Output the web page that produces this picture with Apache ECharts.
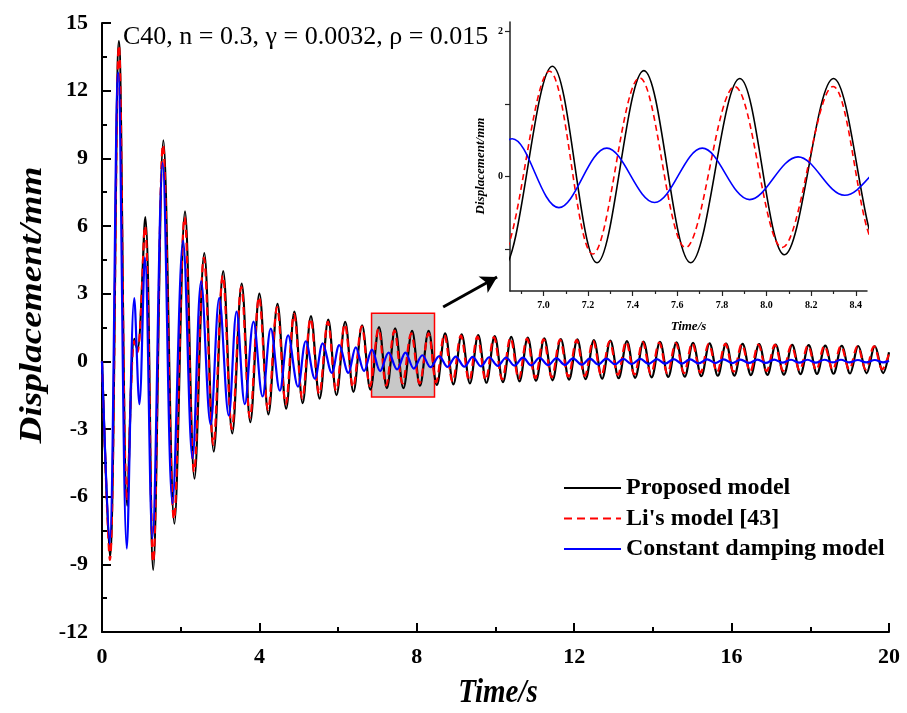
<!DOCTYPE html>
<html><head><meta charset="utf-8">
<script src="https://cdn.jsdelivr.net/npm/echarts@6/dist/echarts.min.js"></script>
<style>html,body{margin:0;padding:0;background:#fff}#c{width:907px;height:713px}</style>
</head><body><div id="c"></div>
<script>
// ---- data: [time (s), displacement (mm)] at extremes ----
const proposed = [[0,0],[0.20,-8.7],[0.43,14.2],[0.64,-6.4],[0.82,1.0],[0.90,0.5],[1.10,6.4],[1.30,-9.25],[1.56,9.8],[1.84,-7.2],[2.11,6.65],[2.35,-5.2],[2.60,4.8],[2.84,-4.0],[3.08,4.0],[3.31,-3.2],[3.55,3.45],[3.77,-2.7],[4.00,3.0],[4.23,-2.35],[4.46,2.55],[4.68,-2.1],[4.89,2.2],[5.10,-1.85],[5.31,2.0],[5.53,-1.65],[5.75,1.85],[5.96,-1.5],[6.18,1.75],[6.39,-1.35],[6.61,1.6],[6.82,-1.25],[7.04,1.52],[7.24,-1.19],[7.45,1.46],[7.66,-1.19],[7.88,1.35],[8.08,-1.08],[8.30,1.35],[8.51,-1.05],[8.72,1.24],[8.93,-1.02],[9.14,1.2],[9.35,-0.98],[9.56,1.16],[9.77,-0.95],[9.98,1.12],[10.19,-0.92],[10.40,1.08],[10.61,-0.89],[10.82,1.05],[11.03,-0.86],[11.24,1.02],[11.45,-0.84],[11.66,0.99],[11.87,-0.81],[12.08,0.97],[12.29,-0.79],[12.50,0.94],[12.71,-0.77],[12.92,0.92],[13.13,-0.75],[13.34,0.9],[13.55,-0.73],[13.76,0.88],[13.97,-0.71],[14.18,0.86],[14.39,-0.69],[14.60,0.84],[14.81,-0.68],[15.02,0.82],[15.23,-0.66],[15.44,0.8],[15.65,-0.64],[15.86,0.79],[16.07,-0.63],[16.28,0.77],[16.49,-0.61],[16.70,0.76],[16.91,-0.6],[17.12,0.74],[17.33,-0.59],[17.54,0.73],[17.75,-0.57],[17.96,0.72],[18.17,-0.56],[18.38,0.7],[18.59,-0.55],[18.80,0.69],[19.01,-0.54],[19.22,0.68],[19.43,-0.53],[19.64,0.67],[19.85,-0.52],[20,0.4]];
const liModel = [[0,0],[0.20,-8.8],[0.43,14.0],[0.64,-6.2],[0.82,0.9],[0.90,0.4],[1.09,6.0],[1.30,-8.9],[1.55,9.6],[1.83,-7.0],[2.10,6.4],[2.34,-4.9],[2.59,4.6],[2.83,-3.7],[3.07,3.8],[3.30,-3.0],[3.54,3.3],[3.76,-2.5],[3.99,2.85],[4.22,-2.15],[4.45,2.4],[4.67,-1.9],[4.88,2.1],[5.09,-1.65],[5.30,1.9],[5.52,-1.45],[5.74,1.75],[5.95,-1.3],[6.17,1.65],[6.38,-1.15],[6.60,1.55],[6.81,-1.1],[7.027,1.45],[7.221,-1.07],[7.431,1.36],[7.637,-0.98],[7.857,1.24],[8.07,-0.98],[8.298,1.24],[8.49,-0.93],[8.70,1.18],[8.91,-0.9],[9.12,1.14],[9.33,-0.86],[9.54,1.1],[9.75,-0.83],[9.96,1.07],[10.17,-0.8],[10.38,1.04],[10.59,-0.77],[10.80,1.01],[11.01,-0.74],[11.22,0.98],[11.43,-0.71],[11.64,0.96],[11.85,-0.68],[12.06,0.94],[12.27,-0.65],[12.48,0.91],[12.69,-0.63],[12.90,0.89],[13.11,-0.6],[13.32,0.87],[13.53,-0.58],[13.74,0.85],[13.95,-0.56],[14.16,0.83],[14.37,-0.54],[14.58,0.81],[14.79,-0.52],[15.00,0.8],[15.21,-0.5],[15.42,0.78],[15.63,-0.48],[15.84,0.77],[16.05,-0.46],[16.26,0.75],[16.47,-0.45],[16.68,0.74],[16.89,-0.43],[17.10,0.73],[17.31,-0.42],[17.52,0.71],[17.73,-0.4],[17.94,0.7],[18.15,-0.39],[18.36,0.69],[18.57,-0.38],[18.78,0.68],[18.99,-0.37],[19.20,0.67],[19.41,-0.36],[19.62,0.66],[19.83,-0.35],[20,0.35]];
const constantDamping = [[0,0],[0.19,-8.1],[0.41,12.8],[0.63,-8.3],[0.82,2.8],[0.95,-1.9],[1.09,4.6],[1.28,-7.85],[1.54,8.8],[1.79,-6.3],[2.06,5.35],[2.30,-4.3],[2.52,3.55],[2.76,-2.8],[2.98,2.8],[3.22,-2.4],[3.42,2.2],[3.63,-1.9],[3.85,1.76],[4.08,-1.56],[4.29,1.45],[4.52,-1.3],[4.73,1.15],[4.98,-1.12],[5.18,0.89],[5.41,-0.77],[5.61,0.8],[5.84,-0.51],[6.03,0.72],[6.26,-0.51],[6.45,0.62],[6.66,-0.43],[6.86,0.52],[7.069,-0.43],[7.284,0.39],[7.498,-0.36],[7.712,0.39],[7.924,-0.32],[8.141,0.27],[8.35,-0.26],[8.57,0.23],[8.78,-0.25],[8.99,0.21],[9.21,-0.24],[9.42,0.2],[9.63,-0.22],[9.84,0.18],[10.06,-0.2],[10.27,0.17],[10.48,-0.19],[10.70,0.16],[10.91,-0.18],[11.12,0.15],[11.34,-0.17],[11.55,0.14],[11.76,-0.16],[11.97,0.13],[12.19,-0.15],[12.40,0.12],[12.61,-0.14],[12.82,0.12],[13.04,-0.13],[13.25,0.11],[13.46,-0.12],[13.68,0.11],[13.89,-0.11],[14.10,0.1],[14.31,-0.1],[14.53,0.1],[14.74,-0.1],[14.95,0.09],[15.16,-0.09],[15.38,0.09],[15.59,-0.08],[15.80,0.09],[16.01,-0.08],[16.23,0.08],[16.44,-0.07],[16.66,0.08],[16.87,-0.07],[17.08,0.08],[17.29,-0.06],[17.51,0.07],[17.72,-0.06],[17.93,0.07],[18.14,-0.06],[18.36,0.07],[18.57,-0.05],[18.78,0.07],[18.99,-0.05],[19.21,0.06],[19.42,-0.05],[19.64,0.06],[19.85,-0.05],[20,0.02]];
const seriesNames = ['Proposed model', "Li's model [43]", 'Constant damping model'];
const zoomT = [6.85, 8.45];
const zoomY = [-1.58, 2.13];
const insetXTicks = [7.0, 7.2, 7.4, 7.6, 7.8, 8.0, 8.2, 8.4];
const insetXMinor = [6.9, 7.1, 7.3, 7.5, 7.7, 7.9, 8.1, 8.3];
const insetYTicks = [-1, 0, 1, 2];
const insetYLabels = [0, 2];
const arrowFrom = [8.67, 2.41];
const arrowTo = [10.04, 3.74];
const titleText = 'C40, n = 0.3, γ = 0.0032, ρ = 0.015';

const SERIF = '"Liberation Serif", "Times New Roman", serif';
const colors = ['#000000', '#ff0000', '#0000ff'];
const datasets = [proposed, liModel, constantDamping];

const chart = echarts.init(document.getElementById('c'));
const series = [];
datasets.forEach((d, i) => {
  const s = {
    name: seriesNames[i], type: 'line', xAxisIndex: 0, yAxisIndex: 0,
    data: d, showSymbol: false, symbol: 'none', smooth: 0.36, z: 2 + i,
    lineStyle: { color: colors[i], width: 2.2, type: i === 1 ? [8, 5] : 'solid' },
    itemStyle: { color: colors[i] }, animation: false
  };
  if (i === 0) {
    s.markArea = {
      silent: true,
      itemStyle: { color: '#c8c8c8', borderColor: '#ff0000', borderWidth: 1.5 },
      data: [[{ coord: [zoomT[0], zoomY[1]] }, { coord: [zoomT[1], zoomY[0]] }]]
    };
    s.markLine = {
      silent: true, symbol: ['none', 'arrow'], symbolSize: [14, 16],
      label: { show: false },
      lineStyle: { color: '#000', width: 3, type: 'solid' },
      data: [[{ coord: arrowFrom }, { coord: arrowTo }]]
    };
  }
  series.push(s);
});
datasets.forEach((d, i) => {
  series.push({
    name: seriesNames[i], type: 'line', xAxisIndex: 1, yAxisIndex: 1,
    data: d, showSymbol: false, symbol: 'none', smooth: 0.36, clip: true, z: 2 + i,
    lineStyle: { color: colors[i], width: 1.6, type: i === 1 ? [6, 4] : 'solid' },
    itemStyle: { color: colors[i] }, animation: false
  });
});

chart.setOption({
  animation: false,
  backgroundColor: '#fff',
  title: { text: titleText, left: 118, top: 19,
    textStyle: { fontFamily: SERIF, fontSize: 26, fontWeight: 'normal', color: '#000' } },
  legend: {
    data: seriesNames, orient: 'vertical', left: 558, top: 471,
    itemWidth: 57, itemHeight: 14, itemGap: 6.5,
    itemStyle: { opacity: 0 },
    textStyle: { fontFamily: SERIF, fontSize: 24, fontWeight: 'bold', color: '#000', lineHeight: 24 }
  },
  grid: [
    { left: 102, right: 18, top: 23, bottom: 81 },
    { left: 510, right: 40, top: 22, bottom: 422 }
  ],
  xAxis: [
    { type: 'value', gridIndex: 0, min: 0, max: 20, interval: 4,
      axisLine: { onZero: false, lineStyle: { color: '#000', width: 2 } },
      axisTick: { inside: true, length: 9, lineStyle: { color: '#000', width: 2 } },
      minorTick: { show: true, splitNumber: 2, length: 5, lineStyle: { color: '#000', width: 2 } },
      axisLabel: { fontFamily: SERIF, fontSize: 22, fontWeight: 'bold', color: '#000', margin: 14 },
      splitLine: { show: false } },
    { type: 'value', gridIndex: 1, min: zoomT[0], max: zoomT[1],
      name: 'Time/s', nameLocation: 'middle', nameGap: 29,
      nameTextStyle: { fontFamily: SERIF, fontSize: 13, fontWeight: 'bold', fontStyle: 'italic', color: '#000' },
      axisLine: { onZero: false, lineStyle: { color: '#222', width: 1.5 } },
      axisTick: { inside: false, length: 5, customValues: insetXTicks, lineStyle: { color: '#222', width: 1.2 } },
      axisLabel: { customValues: insetXTicks, formatter: v => v.toFixed(1), fontFamily: SERIF, fontSize: 10, fontWeight: 'bold', color: '#000', margin: 9 },
      splitLine: { show: false } },
    { type: 'value', gridIndex: 1, min: zoomT[0], max: zoomT[1], position: 'bottom',
      axisLine: { show: false, onZero: false },
      axisTick: { inside: false, length: 3, customValues: insetXMinor, lineStyle: { color: '#222', width: 1.2 } },
      axisLabel: { show: false }, splitLine: { show: false } }
  ],
  yAxis: [
    { type: 'value', gridIndex: 0, min: -12, max: 15, interval: 3,
      axisLine: { onZero: false, lineStyle: { color: '#000', width: 2 } },
      axisTick: { inside: true, length: 9, lineStyle: { color: '#000', width: 2 } },
      minorTick: { show: true, splitNumber: 2, length: 5, lineStyle: { color: '#000', width: 2 } },
      axisLabel: { fontFamily: SERIF, fontSize: 22, fontWeight: 'bold', color: '#000', margin: 14 },
      splitLine: { show: false } },
    { type: 'value', gridIndex: 1, min: zoomY[0], max: zoomY[1],
      axisLine: { onZero: false, lineStyle: { color: '#222', width: 1.5 } },
      axisTick: { inside: false, length: 5, customValues: insetYTicks, lineStyle: { color: '#222', width: 1.2 } },
      axisLabel: { customValues: insetYLabels, fontFamily: SERIF, fontSize: 10, fontWeight: 'bold', color: '#000', margin: 7 },
      splitLine: { show: false } }
  ],
  graphic: [
    { type: 'text', x: 33, y: 305, rotation: Math.PI / 2, scaleX: 1.2, scaleY: 1,
      style: { text: 'Displacement/mm', font: 'italic bold 31px "Liberation Serif"', fill: '#000', align: 'center', verticalAlign: 'middle' } },
    { type: 'text', x: 498, y: 693, scaleX: 1, scaleY: 1.15,
      style: { text: 'Time/s', font: 'italic bold 29px "Liberation Serif"', fill: '#000', align: 'center', verticalAlign: 'middle' } },
    { type: 'text', x: 481, y: 166, rotation: Math.PI / 2,
      style: { text: 'Displacement/mm', font: 'italic bold 13px "Liberation Serif"', fill: '#000', align: 'center', verticalAlign: 'middle' } }
  ],
  series: series
});
</script></body></html>
